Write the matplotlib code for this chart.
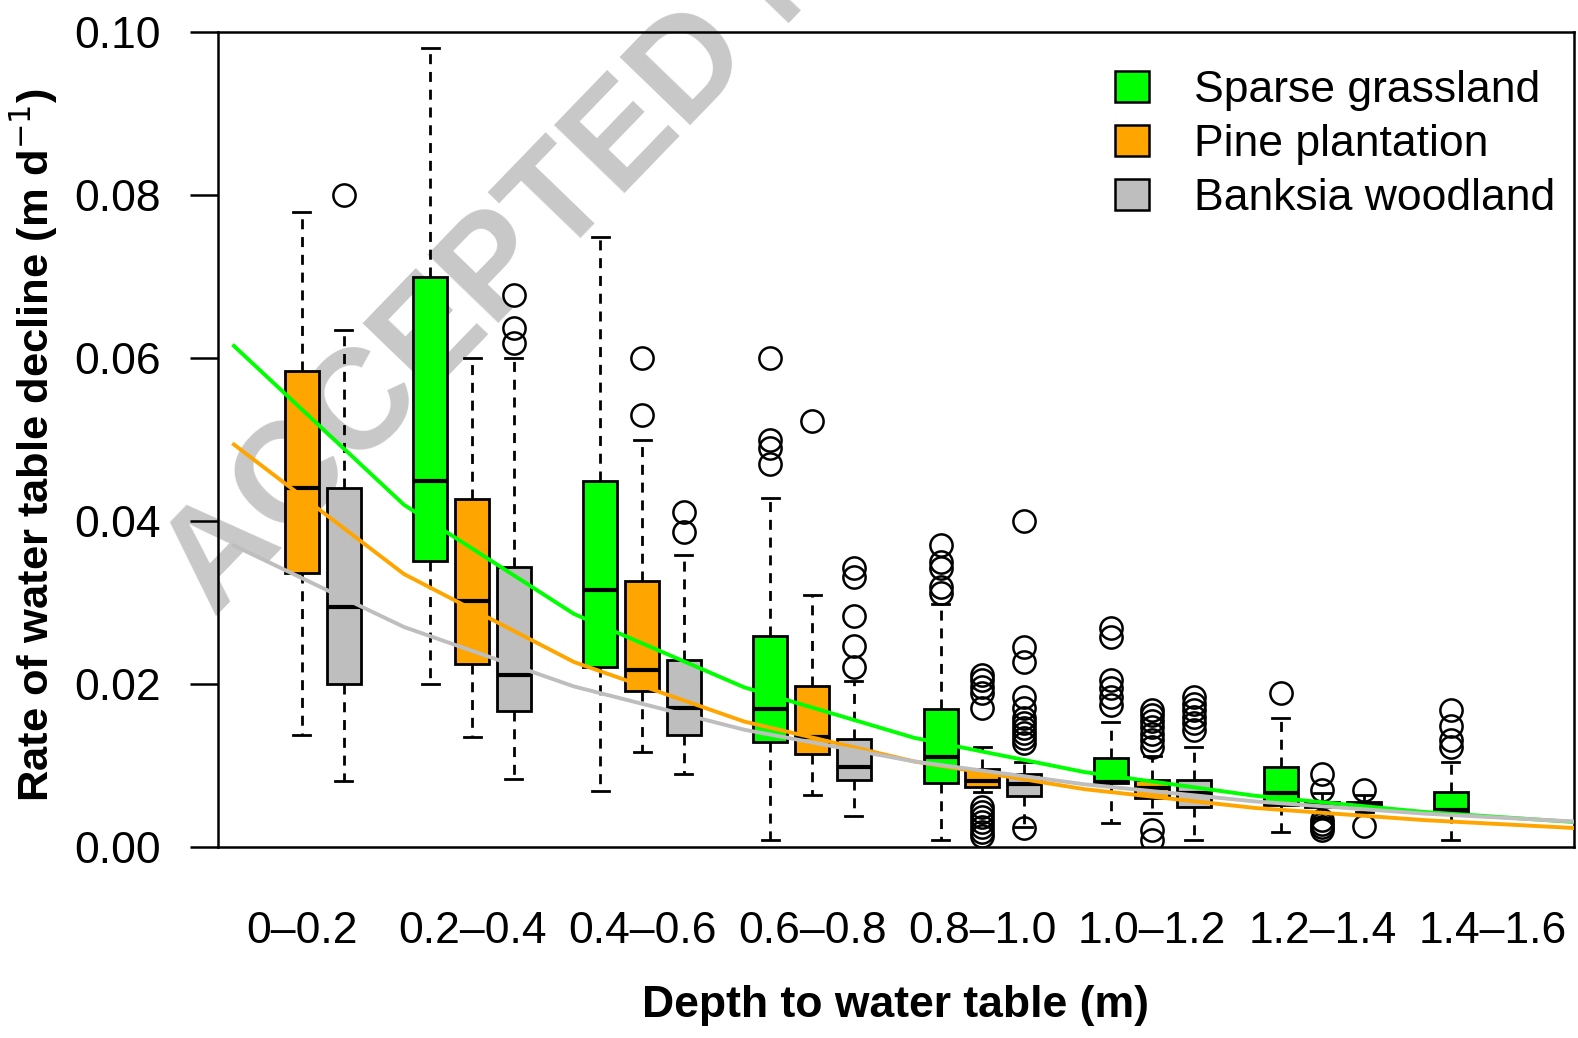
import matplotlib
matplotlib.use("Agg")
import matplotlib.pyplot as plt
from matplotlib.patches import Patch

plt.rcParams["font.family"] = ["Liberation Sans", "DejaVu Sans"]

# depth classes (one group of boxes per class)
depth_labels = ["0–0.2", "0.2–0.4", "0.4–0.6", "0.6–0.8",
                "0.8–1.0", "1.0–1.2", "1.2–1.4", "1.4–1.6"]

# Sparse grassland (no data in the first class)
grass_bins = [1, 2, 3, 4, 5, 6, 7]
grass_lo = [0.0200, 0.0069, 0.0009, 0.0009, 0.0029, 0.0018, 0.0009]
grass_q1 = [0.0351, 0.0221, 0.0129, 0.0079, 0.0078, 0.0052, 0.0042]
grass_med = [0.0449, 0.0315, 0.0169, 0.0110, 0.0080, 0.0066, 0.0045]
grass_q3 = [0.0700, 0.0449, 0.0259, 0.0169, 0.0109, 0.0098, 0.0068]
grass_hi = [0.0981, 0.0749, 0.0428, 0.0298, 0.0153, 0.0158, 0.0104]
grass_out = [
    [],
    [],
    [0.060, 0.050, 0.049, 0.047],
    [0.0371, 0.0350, 0.0342, 0.0319, 0.0312],
    [0.0269, 0.0258, 0.0205, 0.0195, 0.0184, 0.0174],
    [0.0189],
    [0.0168, 0.0148, 0.0131, 0.0123],
]

# Pine plantation
pine_bins = [0, 1, 2, 3, 4, 5, 6]
pine_lo = [0.0137, 0.0135, 0.0117, 0.0064, 0.0068, 0.0042, 0.0036]
pine_q1 = [0.0336, 0.0225, 0.0191, 0.0114, 0.0074, 0.0060, 0.0049]
pine_med = [0.0440, 0.0302, 0.0217, 0.0135, 0.0081, 0.0072, 0.0052]
pine_q3 = [0.0584, 0.0427, 0.0326, 0.0198, 0.0096, 0.0082, 0.0055]
pine_hi = [0.0779, 0.0600, 0.0500, 0.0309, 0.0123, 0.0112, 0.0066]
pine_out = [
    [],
    [],
    [0.060, 0.053],
    [0.0523],
    [0.0211, 0.0205, 0.0196, 0.0189, 0.0171,
     0.0049, 0.0043, 0.0037, 0.0031, 0.0025, 0.0018, 0.0013],
    [0.0168, 0.0162, 0.0155, 0.0147, 0.0139, 0.0131, 0.0123, 0.0021, 0.0009],
    [0.0090, 0.0070, 0.0033, 0.0028, 0.0024, 0.0021],
]

# Banksia woodland
bank_bins = [0, 1, 2, 3, 4, 5, 6]
bank_lo = [0.0081, 0.0083, 0.0089, 0.0038, 0.0025, 0.0009, 0.0043]
bank_q1 = [0.0200, 0.0167, 0.0137, 0.0082, 0.0063, 0.0049, 0.0052]
bank_med = [0.0295, 0.0211, 0.0171, 0.0098, 0.0077, 0.0066, 0.0053]
bank_q3 = [0.0440, 0.0344, 0.0229, 0.0132, 0.0090, 0.0082, 0.0055]
bank_hi = [0.0635, 0.0600, 0.0358, 0.0204, 0.0104, 0.0123, 0.0064]
bank_out = [
    [0.080],
    [0.0678, 0.0637, 0.0619],
    [0.0411, 0.0386],
    [0.0343, 0.0331, 0.0284, 0.0247, 0.0221],
    [0.0400, 0.0245, 0.0227, 0.0184, 0.0171, 0.0158, 0.0152,
     0.0146, 0.0140, 0.0134, 0.0128, 0.0023],
    [0.0184, 0.0176, 0.0168, 0.0160, 0.0152, 0.0144],
    [0.0070, 0.0026],
]

# fitted decline curves, evaluated at the start of each class
curve_x = [0.1, 1.1, 2.1, 3.1, 4.1, 5.1, 6.1, 7.1, 8.1]
grass_fit = [0.0615, 0.0420, 0.0286, 0.0196, 0.0134, 0.0092, 0.0063, 0.0043, 0.0029]
pine_fit = [0.0494, 0.0335, 0.0227, 0.0154, 0.0105, 0.0071, 0.0048, 0.0033, 0.0022]
bank_fit = [0.0370, 0.0270, 0.0197, 0.0144, 0.0105, 0.0077, 0.0056, 0.0041, 0.0030]


def make_stats(lo, q1, med, q3, hi, out):
    return [
        {"whislo": a, "q1": b, "med": c, "q3": d, "whishi": e, "fliers": f}
        for a, b, c, d, e, f in zip(lo, q1, med, q3, hi, out)
    ]


def main():
    green = "#00FF00"
    orange = "#FFA500"
    grey = "#BEBEBE"
    fs = 32

    fig = plt.figure(figsize=(15.78, 10.38), dpi=100)
    ax = fig.add_axes([0.1381, 0.184, 0.8594, 0.785])
    ax.patch.set_alpha(0)

    # watermark behind everything
    fig.text(0.1356, 0.4046, "ACCEPTED MANUSCRIPT", fontsize=102,
             fontweight="bold", color="#C8C8C8", rotation=46,
             rotation_mode="anchor", ha="left", va="baseline", zorder=-5)

    series = [
        (grass_bins, make_stats(grass_lo, grass_q1, grass_med, grass_q3, grass_hi, grass_out), green, -0.245),
        (pine_bins, make_stats(pine_lo, pine_q1, pine_med, pine_q3, pine_hi, pine_out), orange, 0.0),
        (bank_bins, make_stats(bank_lo, bank_q1, bank_med, bank_q3, bank_hi, bank_out), grey, 0.245),
    ]
    for bins, stats, col, off in series:
        ax.bxp(
            stats,
            positions=[b + 0.5 + off for b in bins],
            widths=0.2,
            capwidths=0.1,
            patch_artist=True,
            manage_ticks=False,
            boxprops={"facecolor": col, "edgecolor": "black", "linewidth": 2.0},
            medianprops={"color": "black", "linewidth": 3.0},
            whiskerprops={"color": "black", "linewidth": 2.0, "linestyle": (0, (3.6, 2.8))},
            capprops={"color": "black", "linewidth": 2.0},
            flierprops={"marker": "o", "markerfacecolor": "none",
                        "markeredgecolor": "black", "markersize": 16,
                        "markeredgewidth": 1.8},
            zorder=2,
        )

    for fit, col in [(grass_fit, green), (pine_fit, orange), (bank_fit, grey)]:
        ax.plot(curve_x, fit, color=col, linewidth=2.8, zorder=3)

    ax.set_xlim(0.006, 7.98)
    ax.set_ylim(0, 0.1)
    ax.set_xticks([i + 0.5 for i in range(len(depth_labels))])
    ax.set_xticklabels(depth_labels, fontsize=fs)
    ax.set_yticks([0.0, 0.02, 0.04, 0.06, 0.08, 0.10])
    ax.set_yticklabels(["0.00", "0.02", "0.04", "0.06", "0.08", "0.10"], fontsize=fs)
    ax.tick_params(axis="x", length=0, pad=46)
    ax.tick_params(axis="y", length=20, width=1.8, pad=21)
    for sp in ax.spines.values():
        sp.set_linewidth(1.8)

    fig.text(0.022, 1 - 445 / 1038, r"Rate of water table decline (m d$^{-1}$)",
             fontsize=31.3, fontweight="bold", rotation=90, ha="center", va="center")
    ax.set_xlabel("Depth to water table (m)", fontsize=fs, fontweight="bold")
    ax.xaxis.set_label_coords(0.5, -0.169)

    handles = [Patch(facecolor=c, edgecolor="black", linewidth=1.8)
               for c in (green, orange, grey)]
    ax.legend(handles, ["Sparse grassland", "Pine plantation", "Banksia woodland"],
              loc="upper right", bbox_to_anchor=(0.986, 0.953), frameon=False,
              fontsize=fs, handlelength=0.78, handleheight=0.7,
              handletextpad=1.0, labelspacing=0.29, borderaxespad=0,
              borderpad=0)

    fig.savefig("out.png", dpi=100)
    plt.close(fig)


if __name__ == "__main__":
    main()
